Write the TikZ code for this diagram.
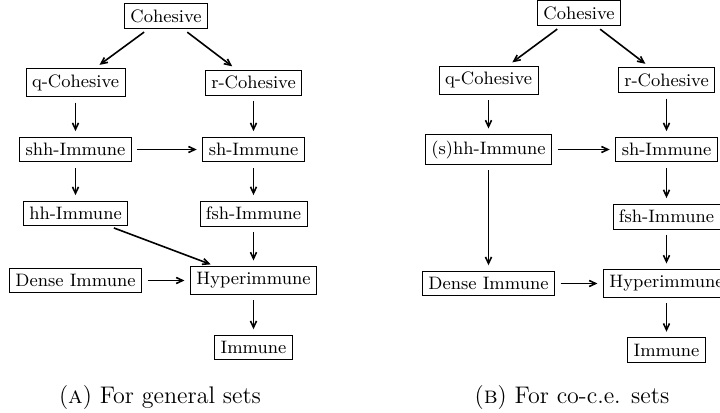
\documentclass[tikz,border=0pt]{standalone}
\usepackage{amsmath, amssymb}
\usepackage{tikz,tkz-graph}
\usetikzlibrary{arrows.meta}
\tikzstyle{propBox}=[shape = rectangle, inner sep = 3pt, draw]
\tikzstyle{slantEdge}=[shorten > = 4.3pt, shorten < = 4.3pt]

\begin{document}
\begin{tikzpicture}[x = 0.5pt, y = -0.5pt]
\tikzstyle{VertexStyle} = []
\tikzstyle{EdgeStyle} = [draw, -{Straight Barb[length = 3.2pt, width = 3pt]}, shorten > = 3pt, shorten < = 3pt]
\useasboundingbox (0,0) rectangle (720,413);
% (a) general sets
\Vertex[style = propBox, x = 166, y = 16, L = \small {Cohesive}]{a0}
\Vertex[style = propBox, x = 75.5, y = 82.5, L = \small {q-Cohesive}]{a1}
\Vertex[style = propBox, x = 253.5, y = 82.5, L = \small {r-Cohesive}]{a2}
\Vertex[style = propBox, x = 75.5, y = 149.5, L = \small {shh-Immune}]{a3}
\Vertex[style = propBox, x = 253.5, y = 149.5, L = \small {sh-Immune}]{a4}
\Vertex[style = propBox, x = 75.5, y = 213.5, L = \small {hh-Immune}]{a5}
\Vertex[style = propBox, x = 253.5, y = 213.5, L = \small {fsh-Immune}]{a6}
\Vertex[style = propBox, x = 75.5, y = 280.5, L = \small {Dense Immune}]{a7}
\Vertex[style = propBox, x = 253.5, y = 280.5, L = \small {Hyperimmune}]{a8}
\Vertex[style = propBox, x = 253.5, y = 347.5, L = \small {Immune}]{a9}
\Edge[style = slantEdge](a0)(a1)
\Edge[style = slantEdge](a0)(a2)
\Edge[](a1)(a3)
\Edge[](a2)(a4)
\Edge[](a3)(a4)
\Edge[](a3)(a5)
\Edge[](a4)(a6)
\Edge[style = {shorten > = 11pt, shorten < = 7pt}](a5)(a8)
\Edge[](a6)(a8)
\Edge[](a7)(a8)
\Edge[](a8)(a9)
% (b) co-c.e. sets
\Vertex[style = propBox, x = 579, y = 13, L = \small {Cohesive}]{b0}
\Vertex[style = propBox, x = 488.5, y = 80, L = \small {q-Cohesive}]{b1}
\Vertex[style = propBox, x = 666.5, y = 80, L = \small {r-Cohesive}]{b2}
\Vertex[style = propBox, x = 488.5, y = 149.5, L = \small {(s)hh-Immune}]{b3}
\Vertex[style = propBox, x = 666.5, y = 149.5, L = \small {sh-Immune}]{b4}
\Vertex[style = propBox, x = 666.5, y = 216.5, L = \small {fsh-Immune}]{b6}
\Vertex[style = propBox, x = 488.5, y = 283.5, L = \small {Dense Immune}]{b7}
\Vertex[style = propBox, x = 666.5, y = 283.5, L = \small {Hyperimmune}]{b8}
\Vertex[style = propBox, x = 666.5, y = 350, L = \small {Immune}]{b9}
\Edge[style = slantEdge](b0)(b1)
\Edge[style = slantEdge](b0)(b2)
\Edge[](b1)(b3)
\Edge[](b2)(b4)
\Edge[](b3)(b4)
\Edge[](b3)(b7)
\Edge[](b4)(b6)
\Edge[](b6)(b8)
\Edge[](b7)(b8)
\Edge[](b8)(b9)
% captions
\node[anchor = base] (capA) at (160,403) {\large (\textsc{a}) For general sets};
\node[anchor = base] (capB) at (572,403) {\large (\textsc{b}) For co-c.e. sets};
\end{tikzpicture}
\end{document}
